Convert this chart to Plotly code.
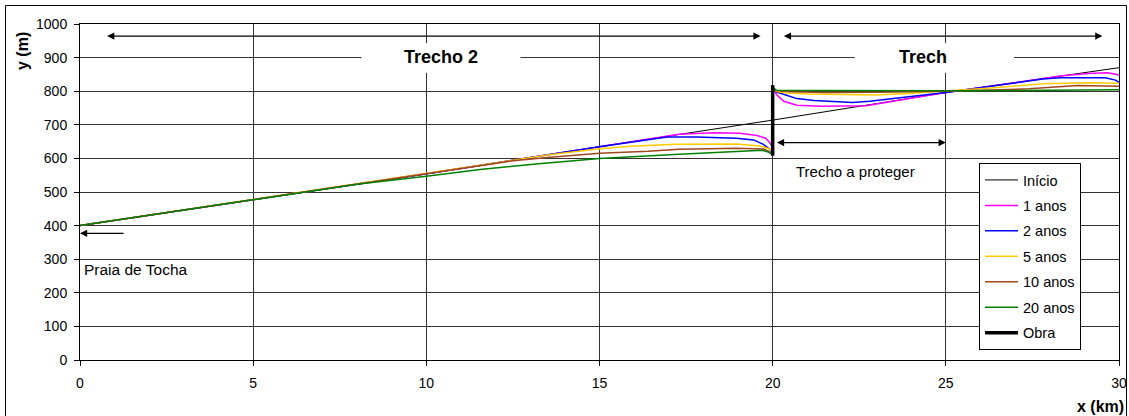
import plotly.graph_objects as go

# ---- data ----
x_inicio = [0, 5, 10, 15, 20, 25, 30]
y_inicio = [400, 477, 554, 635, 714, 796, 870]

x_1ano = [0, 5, 10, 15, 16.75, 17.3, 18.3, 19.05, 19.55, 19.8, 19.93, 20.0,
          20.0, 20.13, 20.32, 20.7, 21.4, 22.2, 22.7, 25.0, 27.0, 28.3, 29.1, 29.67, 29.95, 30.0]
y_1ano = [400, 477, 554, 635, 663, 672, 676, 675, 668, 660, 645, 630,
          808, 788, 770, 758, 755, 755, 757, 796, 827, 845, 853, 855, 850, 846]

x_2anos = [0, 5, 10, 15, 16.1, 16.95, 17.8, 18.95, 19.45, 19.73, 19.92, 20.0,
           20.0, 20.1, 20.4, 20.7, 21.2, 21.8, 22.3, 22.8, 23.3, 23.8, 24.3, 25.0,
           26.4, 27.8, 28.3, 29.0, 29.6, 29.9, 30.0]
y_2anos = [400, 477, 554, 635, 652, 664, 664, 660, 655, 642, 627, 616,
           808, 798, 788, 778, 772, 768, 766, 770, 776, 781, 788, 796,
           816, 836, 840, 841, 840, 833, 826]

x_5anos = [0, 5, 10, 13.5, 15, 15.9, 17.2, 18.95, 19.63, 19.92, 20.0,
           20.0, 20.1, 20.4, 21.0, 22.0, 23.0, 24.0, 25.0, 26.4, 27.8, 29.2, 30.0]
y_5anos = [400, 477, 554, 610, 629, 636, 642, 643, 637, 628, 618,
           810, 800, 795, 792, 790, 789, 794, 800, 810, 822, 825, 824]

x_10anos = [0, 5, 10, 12.5, 13.5, 15, 16.4, 17.3, 18.95, 19.73, 19.9, 20.0,
            20.0, 20.1, 20.5, 21.5, 23.0, 24.0, 25.0, 26.0, 27.4, 28.8, 29.5, 30.0]
y_10anos = [400, 477, 554, 593, 603, 615, 621, 627, 630, 628, 620, 612,
            810, 802, 798, 796, 797, 798, 800, 803, 807, 817, 816, 815]

x_20anos = [0, 5, 8, 10, 11.55, 13, 15, 17.3, 19.0, 19.7, 19.9, 20.0,
            20.0, 20.1, 21.0, 23.0, 25.0, 27.0, 29.0, 30.0]
y_20anos = [400, 477, 523, 547, 567, 582, 600, 612, 622, 624, 618, 610,
            812, 803, 802, 801, 801, 802, 803, 804]

x_obra = [20, 20]
y_obra = [608, 818]

series = [
    ("Início", x_inicio, y_inicio, "#000000", 1),
    ("1 anos", x_1ano, y_1ano, "#FF00FF", 1.5),
    ("2 anos", x_2anos, y_2anos, "#0000FF", 1.5),
    ("5 anos", x_5anos, y_5anos, "#FFCC00", 1.5),
    ("10 anos", x_10anos, y_10anos, "#A0461E", 1.5),
    ("20 anos", x_20anos, y_20anos, "#008000", 1.5),
    ("Obra", x_obra, y_obra, "#000000", 3.5),
]

FONT = "Liberation Sans, Arial, sans-serif"

fig = go.Figure()
for i, (name, xs, ys, col, w) in enumerate(series):
    fig.add_trace(go.Scatter(x=xs, y=ys, mode="lines", name=name,
                             legendgroup=f"g{i}",
                             line=dict(color=col, width=w)))

W, H = 1129, 416
L, R, T, B = 80, 10, 24, 56
pw, ph = W - L - R, H - T - B


def px2paper(px, py):
    return (px - L) / pw, (H - B - py) / ph


axis_common = dict(showgrid=True, gridcolor="#333333", gridwidth=1,
                   showline=True, linecolor="#000000", linewidth=1, mirror=True,
                   ticks="outside", ticklen=5, tickcolor="#000000", automargin=False,
                   zeroline=False, tickfont=dict(family=FONT, size=14, color="#000"))

fig.update_xaxes(range=[0, 30], dtick=5, ticklabelstandoff=5, **axis_common)
fig.update_yaxes(range=[0, 1000], dtick=100, ticklabelstandoff=4, **axis_common)

# frame around whole chart
fx0, fy0 = px2paper(5.5, 430)
fx1, fy1 = px2paper(1126.5, 5.5)
shapes = [
    dict(type="rect", xref="paper", yref="paper", x0=fx0, x1=fx1, y0=fy0, y1=fy1,
         line=dict(color="#000", width=1), fillcolor="rgba(0,0,0,0)", layer="above"),
    # white text boxes
    dict(type="rect", xref="x", yref="y", x0=8.13, x1=12.72, y0=855, y1=943,
         line=dict(width=0), fillcolor="white", layer="between"),
    dict(type="rect", xref="x", yref="y", x0=22.37, x1=26.97, y0=855, y1=943,
         line=dict(width=0), fillcolor="white", layer="between"),
]

annotations = []
# double arrows
for (xa, xb, yy) in [(0.74, 19.65, 964), (20.28, 29.52, 964), (20.08, 25.0, 647)]:
    annotations.append(dict(x=xb, y=yy, ax=xa, ay=yy, xref="x", yref="y",
                            axref="x", ayref="y", showarrow=True, arrowhead=2,
                            arrowsize=1.2, arrowwidth=1.2, arrowcolor="#000",
                            arrowside="end+start", text=""))
# single arrow to Praia de Tocha
annotations.append(dict(x=0.0, y=377, ax=1.3, ay=377, xref="x", yref="y",
                        axref="x", ayref="y", showarrow=True, arrowhead=2,
                        arrowsize=1.2, arrowwidth=1.2, arrowcolor="#000", text=""))

annotations += [
    dict(x=10.43, y=902, xref="x", yref="y", text="<b>Trecho 2</b>", showarrow=False,
         font=dict(family=FONT, size=18, color="#000")),
    dict(x=23.6, y=902, xref="x", yref="y", text="<b>Trech</b>", showarrow=False,
         xanchor="left", font=dict(family=FONT, size=18, color="#000")),
    dict(x=22.39, y=562, xref="x", yref="y", text="Trecho a proteger", showarrow=False,
         font=dict(family=FONT, size=15, color="#000")),
    dict(x=0.07, y=268, xref="x", yref="y", text="Praia de Tocha", showarrow=False,
         xanchor="left", font=dict(family=FONT, size=15.5, color="#000")),
]

yx, yy = px2paper(22, 51)
annotations.append(dict(x=yx, y=yy, xref="paper", yref="paper", text="<b>y (m)</b>",
                        textangle=-90, showarrow=False, xanchor="center", yanchor="middle",
                        font=dict(family=FONT, size=16, color="#000")))
xx, xy = px2paper(1126, 406)
annotations.append(dict(x=xx, y=xy, xref="paper", yref="paper", text="<b>x (km)</b>",
                        xanchor="right", yanchor="middle", showarrow=False,
                        font=dict(family=FONT, size=16, color="#000")))

lx, ly = px2paper(979, 163)
fig.update_layout(
    width=W, height=H,
    margin=dict(l=L, r=R, t=T, b=B, pad=0, autoexpand=False),
    paper_bgcolor="white", plot_bgcolor="white",
    font=dict(family=FONT, size=14, color="#000"),
    showlegend=True,
    legend=dict(x=lx, y=ly, xanchor="left", yanchor="top",
                bgcolor="white", bordercolor="#000", borderwidth=1,
                font=dict(family=FONT, size=14.5, color="#000"),
                itemwidth=33, tracegroupgap=3.6, traceorder="grouped"),
    shapes=shapes,
    annotations=annotations,
)

fig.write_html(
    "out.html",
    post_script="document.body.style.margin='0';document.body.style.overflow='hidden';"
                "document.documentElement.style.overflow='hidden';",
)
